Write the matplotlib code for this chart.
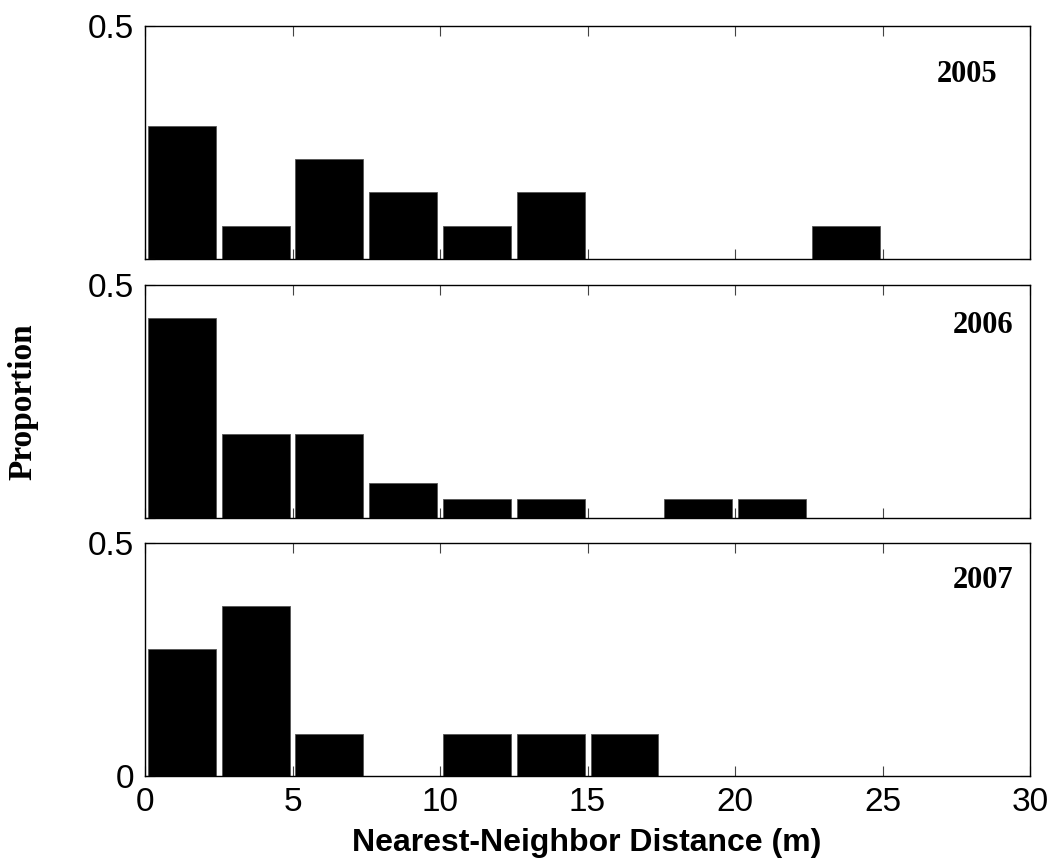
import numpy as np
import matplotlib
matplotlib.use('Agg')
import matplotlib.pyplot as plt

# Histogram bins (m) and proportions
bin_centers = [1.25, 3.75, 6.25, 8.75, 11.25, 13.75, 16.25, 18.75, 21.25, 23.75, 26.25, 28.75]
years = ['2005', '2006', '2007']
prop_2005 = [0.286, 0.071, 0.214, 0.143, 0.071, 0.143, 0, 0, 0, 0.071, 0, 0]
prop_2006 = [0.429, 0.180, 0.180, 0.075, 0.040, 0.040, 0, 0.040, 0.040, 0, 0, 0]
prop_2007 = [0.273, 0.364, 0.091, 0, 0.091, 0.091, 0.091, 0, 0, 0, 0, 0]
x_ticks = [0, 5, 10, 15, 20, 25, 30]

plt.rcParams['font.family'] = ['Liberation Sans', 'DejaVu Sans']

fig = plt.figure(figsize=(10.54, 8.61), dpi=100)
bottoms = [0.6992, 0.3984, 0.0987]
label_x = [28.88, 29.42, 29.42]
label_y = [0.395, 0.413, 0.42]

for i, (year, props) in enumerate(zip(years, [prop_2005, prop_2006, prop_2007])):
    ax = fig.add_axes([0.1376, bottoms[i], 0.8397, 0.2705])
    ax.bar(bin_centers, props, width=2.3, color='black', edgecolor='#555555', linewidth=0.6)
    ax.set_xlim(0, 30)
    ax.set_ylim(0, 0.5)
    ax.set_xticks(x_ticks)
    ax.set_yticks([0, 0.5])
    ax.tick_params(direction='in', top=True, right=True, length=7, width=0.8,
                   color='#444444', labelsize=24, pad=8)
    if i < 2:
        ax.set_xticklabels([])
        ax.set_yticklabels(['', '0.5'])
    else:
        ax.set_yticklabels(['0', '0.5'])
    for s in ax.spines.values():
        s.set_linewidth(1.0)
    ax.text(label_x[i], label_y[i], year, ha='right', va='center', fontsize=22,
            fontweight='bold', family='Liberation Serif')

fig.text(0.557, 0.0116, 'Nearest-Neighbor Distance (m)', ha='center', va='baseline',
         fontsize=23, fontweight='bold')
fig.text(0.022, 0.534, 'Proportion', rotation=90, ha='center', va='center',
         fontsize=24, fontweight='bold', family='Liberation Serif')

plt.savefig('out.png', dpi=100)
